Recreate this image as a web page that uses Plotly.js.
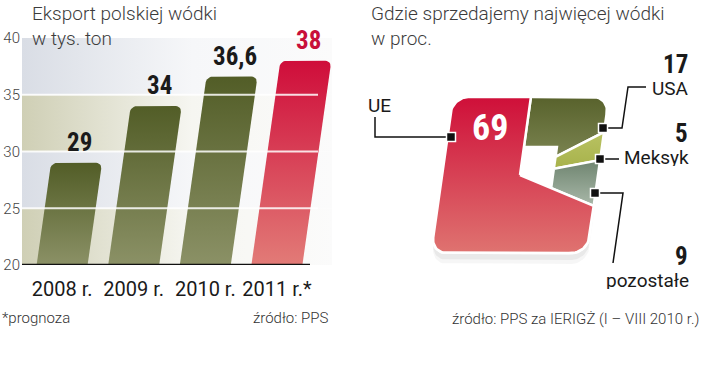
<!DOCTYPE html>
<html><head><meta charset="utf-8">
<script src="https://cdn.plot.ly/plotly-3.0.1.min.js"></script>
<style>html,body{margin:0;padding:0;background:#fff}#chart{width:720px;height:369px}</style>
</head><body><div id="chart"></div>
<script>
// ---------- DATA ----------
const years = ['2008 r.', '2009 r.', '2010 r.', '2011 r.*'];
const exportValues = [29, 34, 36.6, 38];
const valueLabels = ['29', '34', '36,6', '38'];
const forecast = [false, false, false, true];
const yTicks = [20, 25, 30, 35, 40];

const markets = ['USA', 'Meksyk', 'pozostałe', 'UE'];
const marketShares = [17, 5, 9, 69];

// ---------- GEOMETRY / STYLE ----------
const W = 720, H = 369;
const px = v => v / W, py = v => 1 - v / H;
const L = {x0: 22, x1: 340, yTop: 38, yBot: 265, xMin: -0.56, catPx: 71.6};
const xMax = L.xMin + (L.x1 - L.x0) / L.catPx;
const yPxPerUnit = (L.yBot - L.yTop) / (yTicks[yTicks.length - 1] - yTicks[0]);
const yBase = yTicks[0];
const halfW = 0.356;
const skewPerUnit = 1.61 / L.catPx * (yPxPerUnit / 11.35); // categories per y-unit
const LIGHT = 'Roboto, "Liberation Sans", sans-serif';
const NARROW = '"Liberation Sans Narrow", "Arial Narrow", "Roboto Condensed", sans-serif';

const traces = [];
const shapes = [];
const annotations = [];

// background bands
const bandColors = [['#cfcfb5', '#f6f6f1'], ['#d9dde5', '#f6f7f9']];
for (let k = 0; k < yTicks.length - 1; k++) {
  const a = yTicks[k], b = yTicks[k + 1], xr = L.xMin + (332 - L.x0) / L.catPx;
  const c = bandColors[k % 2];
  traces.push({type: 'scatter', mode: 'lines', x: [L.xMin, xr, xr, L.xMin, L.xMin], y: [a, a, b, b, a],
    fill: 'toself', line: {width: 0, color: 'rgba(0,0,0,0)'},
    fillgradient: {type: 'horizontal', colorscale: [[0, c[0]], [0.55, c[1]], [1, '#fbfbfb']]},
    hoverinfo: 'skip', showlegend: false, xaxis: 'x', yaxis: 'y'});
}

// bars (skewed, rounded tops)
function barPoly(i, v) {
  const rx = 6 / L.catPx, ry = 6 / yPxPerUnit;
  const pts = [[i - halfW, yBase], [i + halfW, yBase]];
  for (let a = 0; a <= 90; a += 15) { const t = a * Math.PI / 180; pts.push([i + halfW - rx + rx * Math.cos(t), v - ry + ry * Math.sin(t)]); }
  for (let a = 90; a <= 180; a += 15) { const t = a * Math.PI / 180; pts.push([i - halfW + rx + rx * Math.cos(t), v - ry + ry * Math.sin(t)]); }
  pts.push(pts[0]);
  return {x: pts.map(p => p[0] + skewPerUnit * (p[1] - yBase)), y: pts.map(p => p[1])};
}
exportValues.forEach((v, i) => {
  const p = barPoly(i, v);
  const cs = forecast[i] ? [[0, '#e27b77'], [1, '#cf0d3a']] : [[0, '#8b9166'], [1, '#525d27']];
  traces.push({type: 'scatter', mode: 'lines', x: p.x, y: p.y, fill: 'toself',
    line: {width: 0, color: 'rgba(0,0,0,0)'}, fillgradient: {type: 'vertical', colorscale: cs},
    hoverinfo: 'skip', showlegend: false, xaxis: 'x', yaxis: 'y'});
  // value label (annotation so it sits above the white gridlines)
  annotations.push({xref: 'x', yref: 'y', x: i + skewPerUnit * (v - yBase) + 0.04, y: v, yanchor: 'bottom', xanchor: 'center',
    yshift: 4, showarrow: false, text: valueLabels[i],
    font: {family: NARROW, size: 25, weight: 700, color: forecast[i] ? '#c8103a' : '#1a1a1a'}});
});

// gridlines over bars + baseline
yTicks.slice(1, -1).forEach(t => shapes.push({type: 'line', xref: 'paper', yref: 'y', x0: px(L.x0), x1: px(318), y0: t, y1: t,
  line: {color: 'rgba(255,255,255,0.85)', width: 2}, layer: 'above'}));
shapes.push({type: 'line', xref: 'paper', yref: 'y', x0: px(L.x0), x1: px(310), y0: yBase, y1: yBase,
  line: {color: '#111', width: 2.5}, layer: 'above'});

// ---------- PIE (skewed rounded square) ----------
const P = {cx: 520, cy: 175, R: 78, skew: 0.14, corner: 0.2, hx: 33 / 78, hy: 28 / 78};
function boundaryT(th) {
  const ux = Math.abs(Math.sin(th)), uy = Math.abs(Math.cos(th));
  let t = 1 / Math.max(ux, uy);
  const c = P.corner, k = 1 - c;
  if (t * ux > k && t * uy > k) {
    const b = -2 * k * (ux + uy), cc = 2 * k * k - c * c;
    t = (-b + Math.sqrt(b * b - 4 * cc)) / 2;
  }
  return t;
}
function arc(a1, a2) {
  const pts = [];
  const n = Math.max(2, Math.ceil((a2 - a1) / 1));
  for (let j = 0; j <= n; j++) {
    const th = (a1 + (a2 - a1) * j / n) * Math.PI / 180;
    const t = boundaryT(th);
    pts.push([t * Math.sin(th), t * Math.cos(th)]);
  }
  return pts;
}
function innerPt(a) {
  const th = a * Math.PI / 180, sx = Math.sin(th), cy = Math.cos(th);
  let t = Infinity, edge = '';
  if (sx > 1e-9) { const tx = P.hx / sx; if (tx < t) { t = tx; edge = 'right'; } }
  if (cy > 1e-9) { const ty = P.hy / cy; if (ty < t) { t = ty; edge = 'top'; } }
  return {p: [t * sx, t * cy], edge};
}
const skewPts = (pts, dy) => ({x: pts.map(p => p[0] + P.skew * p[1]), y: pts.map(p => p[1] + (dy || 0))});

// shadow, then a white base so the notch stays white
[[0.09, 0.05], [0.14, 0.035], [0, 0]].forEach(([dy, op]) => {
  const s = skewPts(arc(0, 360), -dy);
  traces.push({type: 'scatter', mode: 'lines', x: s.x, y: s.y, fill: 'toself',
    fillcolor: op ? 'rgba(0,0,0,' + op + ')' : '#ffffff',
    line: {width: op ? 0 : 3, color: op ? 'rgba(0,0,0,0)' : '#ffffff'}, hoverinfo: 'skip', showlegend: false, xaxis: 'x2', yaxis: 'y2'});
});

const sliceColors = {
  'USA': [[0, '#7a8350'], [1, '#58622c']],
  'Meksyk': [[0, '#a7b24b'], [1, '#b9c262']],
  'pozostałe': [[0, '#a9b8a9'], [1, '#6e846f']],
  'UE': [[0, '#df7370'], [1, '#cf0f39']]
};
const total = marketShares.reduce((a, b) => a + b, 0);
let acc = 0;
const sliceAngles = marketShares.map(v => { const a1 = acc / total * 360; acc += v; return [a1, acc / total * 360]; });
markets.forEach((m, i) => {
  const [a1, a2] = sliceAngles[i];
  let pts;
  if (m === 'UE') {
    pts = [[0, 0], ...arc(a1, a2), [0, 0]];
  } else {
    const i1 = innerPt(a1), i2 = innerPt(a2);
    pts = [i1.p, ...arc(a1, a2), i2.p];
    if (i1.edge !== i2.edge) pts.push([P.hx, P.hy]);
    pts.push(i1.p);
  }
  const s = skewPts(pts);
  traces.push({type: 'scatter', mode: 'lines', x: s.x, y: s.y, fill: 'toself',
    line: {width: 2.5, color: '#ffffff'}, fillgradient: {type: 'vertical', colorscale: sliceColors[m]},
    hoverinfo: 'skip', showlegend: false, xaxis: 'x2', yaxis: 'y2'});
});

// ---------- TEXT ----------
const titleFont = {family: LIGHT, size: 19, weight: 300, color: '#3c3c3c'};
annotations.push({xref: 'paper', yref: 'paper', x: px(30), y: py(0), xanchor: 'left', yanchor: 'top', align: 'left',
  showarrow: false, text: 'Eksport polskiej wódki<br>w tys. ton', font: titleFont});
annotations.push({xref: 'paper', yref: 'paper', x: px(369), y: py(0), xanchor: 'left', yanchor: 'top', align: 'left',
  showarrow: false, text: 'Gdzie sprzedajemy najwięcej wódki<br>w proc.', font: titleFont});
const noteFont = {family: LIGHT, size: 15, weight: 300, color: '#333'};
annotations.push({xref: 'paper', yref: 'paper', x: px(0), y: py(318), xanchor: 'left', yanchor: 'middle', showarrow: false, text: '*prognoza', font: noteFont});
annotations.push({xref: 'paper', yref: 'paper', x: px(331), y: py(318), xanchor: 'right', yanchor: 'middle', showarrow: false, text: 'źródło: PPS', font: noteFont});
annotations.push({xref: 'paper', yref: 'paper', x: px(701), y: py(319), xanchor: 'right', yanchor: 'middle', showarrow: false, text: 'źródło: PPS za IERIGŻ (I – VIII 2010 r.)', font: noteFont});

const labFont = {family: LIGHT, size: 19, weight: 400, color: '#1a1a1a'};
const numFont = {family: NARROW, size: 25, weight: 700, color: '#1a1a1a'};
const idx = m => markets.indexOf(m);
annotations.push({xref: 'paper', yref: 'paper', x: px(366), y: py(105), xanchor: 'left', yanchor: 'middle', showarrow: false, text: markets[idx('UE')], font: labFont});
annotations.push({xref: 'paper', yref: 'paper', x: px(490), y: py(128), xanchor: 'center', yanchor: 'middle', showarrow: false,
  text: String(marketShares[idx('UE')]), font: {family: NARROW, size: 36, weight: 700, color: '#ffffff'}});
[['USA', 64, 88], ['Meksyk', 133, 157], ['pozostałe', 256, 280]].forEach(([m, yn, yl]) => {
  annotations.push({xref: 'paper', yref: 'paper', x: px(690), y: py(yn), xanchor: 'right', yanchor: 'middle', showarrow: false,
    height: 20, text: String(marketShares[idx(m)]), font: numFont});
  annotations.push({xref: 'paper', yref: 'paper', x: px(691), y: py(yl), xanchor: 'right', yanchor: 'middle', showarrow: false,
    height: 18, text: m, font: labFont});
});

// leader lines + markers
const path = pts => pts.map((p, j) => (j ? 'L' : 'M') + px(p[0]) + ',' + py(p[1])).join(' ');
[[[375, 117], [375, 137], [450, 137]], [[603, 128], [622, 128], [628, 87], [646, 87]], [[600, 159], [619, 159]], [[595, 193], [623, 193], [613, 263]]]
  .forEach(pts => {
    shapes.push({type: 'path', xref: 'paper', yref: 'paper', path: path(pts), line: {color: '#111', width: 1.5}, layer: 'above'});
  });
[[451, 137], [603, 128], [600, 159], [595, 193]].forEach(([x, y]) => {
  shapes.push({type: 'rect', xref: 'paper', yref: 'paper', x0: px(x - 4.5), x1: px(x + 4.5), y0: py(y - 4.5), y1: py(y + 4.5),
    fillcolor: '#111', line: {color: '#fff', width: 1.5}, layer: 'above'});
});

const layout = {
  width: W, height: H, margin: {l: 0, r: 0, t: 0, b: 0}, paper_bgcolor: '#fff', plot_bgcolor: 'rgba(0,0,0,0)',
  showlegend: false,
  xaxis: {domain: [px(L.x0), px(L.x1)], range: [L.xMin, xMax], tickvals: years.map((_, i) => i), ticktext: years,
    showgrid: false, zeroline: false, showline: false, ticks: '', ticklabelstandoff: 10,
    tickfont: {family: LIGHT, size: 20, weight: 400, color: '#1a1a1a'}, fixedrange: true},
  yaxis: {domain: [py(L.yBot), py(L.yTop)], range: [yTicks[0], yTicks[yTicks.length - 1]], tickvals: yTicks,
    showgrid: false, zeroline: false, showline: false, ticks: '', ticklabelstandoff: 1,
    tickfont: {family: LIGHT, size: 15, weight: 300, color: '#444'}, fixedrange: true},
  xaxis2: {domain: [px(340), 1], range: [(340 - P.cx) / P.R, (720 - P.cx) / P.R], visible: false, fixedrange: true},
  yaxis2: {domain: [0, 1], range: [(P.cy - 369) / P.R, P.cy / P.R], visible: false, fixedrange: true},
  shapes, annotations
};
Plotly.newPlot('chart', traces, layout, {staticPlot: true, displayModeBar: false});
</script></body></html>
